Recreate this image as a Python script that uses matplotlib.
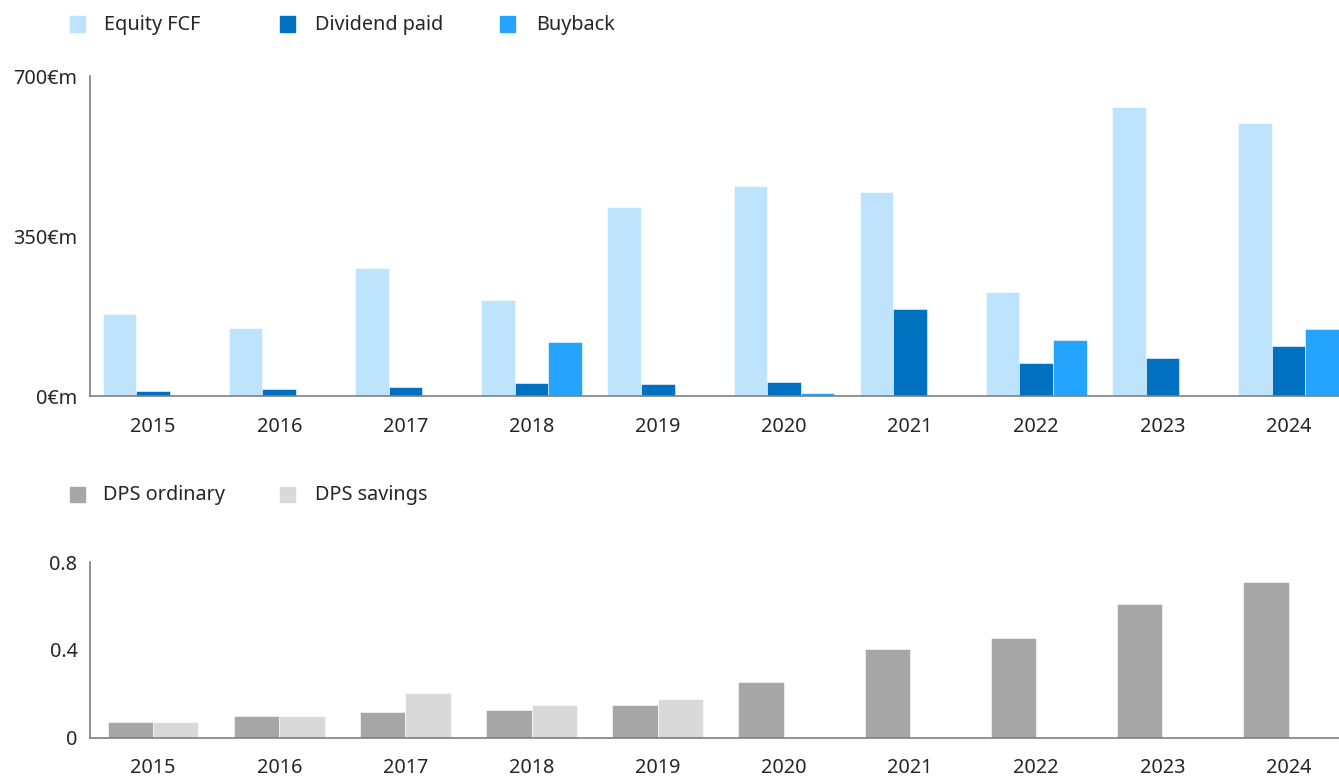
import numpy as np
import matplotlib
matplotlib.use("Agg")
import matplotlib.pyplot as plt
from matplotlib.patches import Rectangle

plt.rcParams['font.family'] = ['Noto Sans', 'DejaVu Sans']

## Data
years = ['2015', '2016', '2017', '2018', '2019', '2020', '2021', '2022', '2023', '2024']
equity_fcf = [179, 148, 281, 209, 414, 460, 447, 227, 632, 597]
dividend_paid = [10, 15, 20, 28, 26, 31, 190, 73, 83, 110]
buyback = [0, 0, 0, 118, 0, 6, 0, 122, 0, 146]

dps_ordinary = [0.072, 0.098, 0.118, 0.124, 0.147, 0.251, 0.405, 0.454, 0.607, 0.707]
dps_savings = [0.072, 0.098, 0.201, 0.147, 0.175, 0, 0, 0, 0, 0]

top_ticks = [0, 350, 700]
top_ticklabels = ['0€m', '350€m', '700€m']
bot_ticks = [0, 0.4, 0.8]
bot_ticklabels = ['0', '0.4', '0.8']

top_labels = ['Equity FCF', 'Dividend paid', 'Buyback']
top_colors = ['#BEE3FC', '#0070C0', '#25A4FF']
bot_labels = ['DPS ordinary', 'DPS savings']
bot_colors = ['#A6A6A6', '#D9D9D9']

W, H = 1339, 776
fig = plt.figure(figsize=(W / 100, H / 100), dpi=100)

text_col = '#262626'
spine_col = '#808080'
fs = 14.3

def px_axes(x0, y0, x1, y1):
    # pixel box (top-left origin) -> figure axes
    return fig.add_axes([x0 / W, 1 - y1 / H, (x1 - x0) / W, (y1 - y0) / H])

def style(ax):
    for s in ['top', 'right']:
        ax.spines[s].set_visible(False)
    for s in ['left', 'bottom']:
        ax.spines[s].set_color(spine_col)
        ax.spines[s].set_linewidth(1.2)
    ax.tick_params(length=0, labelsize=fs, colors=text_col)
    ax.tick_params(axis='x', pad=15)
    ax.tick_params(axis='y', pad=9)

x = np.arange(len(years))

## Top chart
ax1 = px_axes(90, 76, 1339, 396)
w = 0.266
for k, (vals, col) in enumerate(zip([equity_fcf, dividend_paid, buyback], top_colors)):
    ax1.bar(x + (k - 1) * w, vals, width=w, color=col, edgecolor='white', linewidth=0.4)
ax1.set_xlim(-0.5, 9.4)
ax1.set_ylim(0, 700)
ax1.set_yticks(top_ticks)
ax1.set_yticklabels(top_ticklabels)
ax1.set_xticks(x)
ax1.set_xticklabels(years)
style(ax1)
for lab in ax1.get_yticklabels():
    lab.set_va('center_baseline')

## Bottom chart
ax2 = px_axes(90, 562, 1339, 737.5)
w2 = 0.36
ax2.bar(x - w2 / 2, dps_ordinary, width=w2, color=bot_colors[0], edgecolor='white', linewidth=0.4)
ax2.bar(x + w2 / 2, dps_savings, width=w2, color=bot_colors[1], edgecolor='white', linewidth=0.4)
ax2.set_xlim(-0.5, 9.4)
ax2.set_ylim(0, 0.8)
ax2.set_yticks(bot_ticks)
ax2.set_yticklabels(bot_ticklabels)
ax2.set_xticks(x)
ax2.set_xticklabels(years)
style(ax2)

## Legends (drawn by hand to match positions)
def legend_row(labels, colors, sq_x, txt_x, yc, size=15):
    for lab, col, sx, tx in zip(labels, colors, sq_x, txt_x):
        fig.patches.append(Rectangle((sx / W, 1 - (yc + size / 2) / H), size / W, size / H,
                                     transform=fig.transFigure, color=col, figure=fig))
        fig.text(tx / W, 1 - (yc + 1) / H, lab, fontsize=fs, color=text_col, va='center', ha='left')

legend_row(top_labels, top_colors, [70, 280, 500], [104, 315, 536], 24)
legend_row(bot_labels, bot_colors, [70, 280], [103, 315], 494)

fig.savefig('out.png', dpi=100)
